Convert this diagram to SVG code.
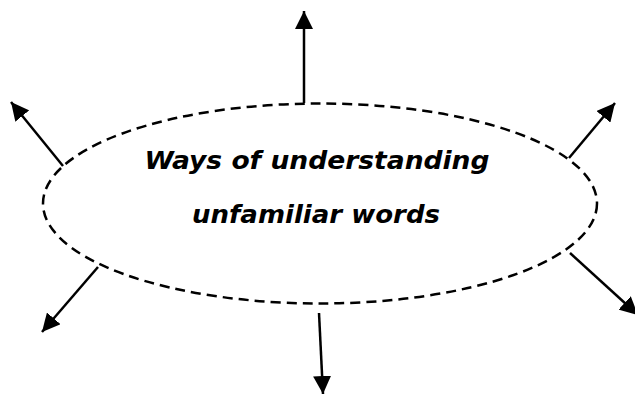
<svg xmlns="http://www.w3.org/2000/svg" width="635" height="394" viewBox="0 0 635 394">
  <style>
    .oval { fill: none; stroke: #000; stroke-width: 2.5; stroke-dasharray: 10 6; }
    .conn { stroke: #000; stroke-width: 2.5; fill: none; marker-end: url(#arrow); }
    .label { font-family: "Comic Sans MS", "DejaVu Sans", sans-serif; font-weight: bold; font-style: italic; font-size: 25px; fill: #000; text-anchor: middle; }
  </style>
  <defs>
    <marker id="arrow" markerUnits="userSpaceOnUse" markerWidth="19" markerHeight="18" refX="18" refY="9" orient="auto">
      <path d="M0,0 L18,9 L0,18 Z" fill="#000"/>
    </marker>
  </defs>
  <rect width="635" height="394" fill="#fff"/>
  <g id="center-node">
    <ellipse class="oval" cx="320" cy="203.5" rx="277" ry="100"/>
    <text class="label" x="317" y="169" textLength="345" lengthAdjust="spacingAndGlyphs">Ways of understanding</text>
    <text class="label" x="316" y="223" textLength="248" lengthAdjust="spacingAndGlyphs">unfamiliar words</text>
  </g>
  <g id="connectors">
    <line class="conn" x1="304" y1="103" x2="304" y2="11"/>
    <line class="conn" x1="63" y1="166" x2="11" y2="102"/>
    <line class="conn" x1="569" y1="158" x2="615" y2="103"/>
    <line class="conn" x1="98" y1="267" x2="42" y2="332"/>
    <line class="conn" x1="570" y1="253" x2="638" y2="315"/>
    <line class="conn" x1="319" y1="313" x2="323" y2="394"/>
  </g>
</svg>
